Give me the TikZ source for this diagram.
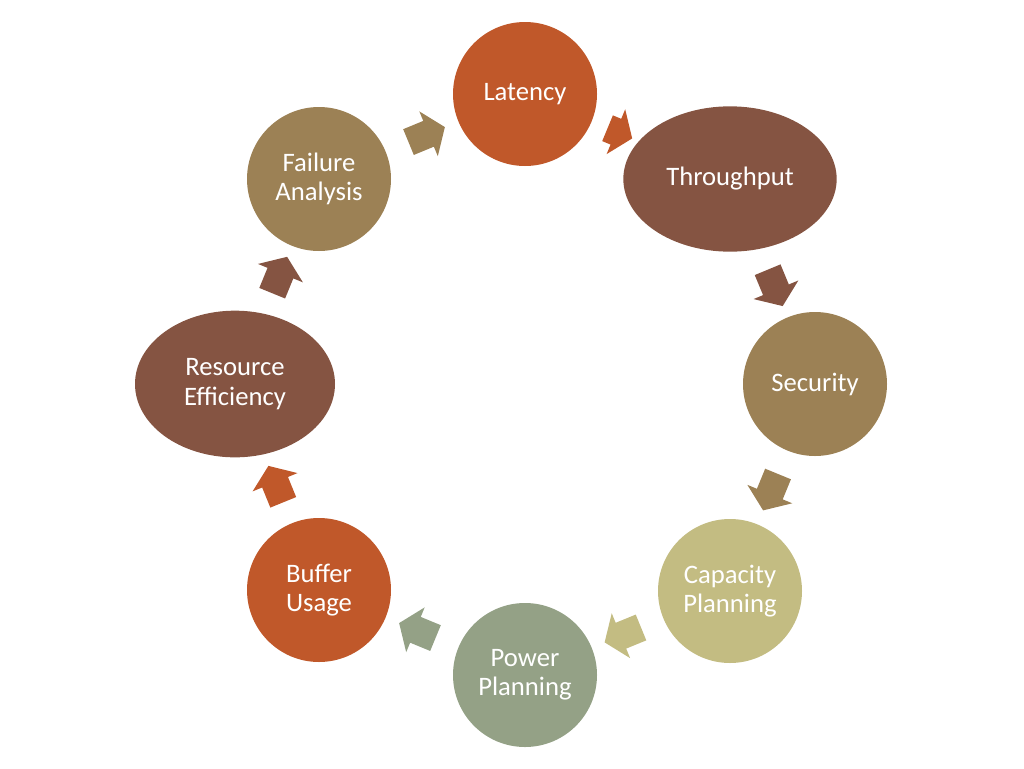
\documentclass[tikz,border=0pt]{standalone}
\usepackage{fontspec}
\setmainfont{Carlito}
\usetikzlibrary{shapes.geometric,shapes.arrows}
\definecolor{cOrange}{RGB}{192,88,42}
\definecolor{cBrown}{RGB}{133,84,66}
\definecolor{cTan}{RGB}{156,129,85}
\definecolor{cKhaki}{RGB}{195,188,130}
\definecolor{cSage}{RGB}{148,161,134}
\begin{document}
\begin{tikzpicture}[x=0.75pt,y=-0.75pt,
  lbl/.style={text=white,align=center,inner sep=0pt,font=\fontsize{20}{22}\selectfont},
  stage/.style={lbl,circle,minimum size=108pt},
  ostage/.style={lbl,ellipse},
  barrow/.style={single arrow,draw=none,minimum height=29.5pt,
    inner xsep=0pt,inner ysep=10.25pt,
    single arrow head extend=7.75pt,single arrow tip angle=108,
    sloped,allow upside down},
  sarrow/.style={barrow,minimum height=20pt}
]
\useasboundingbox (0,0) rectangle (1024,768);
\node[stage,fill=cOrange] (lat) at (525,94) {Latency};
\node[ostage,fill=cBrown,minimum width=160pt,minimum height=109pt] (thr) at (730,179) {Throughput};
\node[stage,fill=cTan] (sec) at (815,384) {Security};
\node[stage,fill=cKhaki] (cap) at (730,591) {Capacity\\Planning};
\node[stage,fill=cSage] (pow) at (525,675) {Power\\Planning};
\node[stage,fill=cOrange] (buf) at (319,590) {Buffer\\Usage};
\node[ostage,fill=cBrown,minimum width=150pt,minimum height=110pt] (res) at (235,384) {Resource\\Efficiency};
\node[stage,fill=cTan] (fai) at (319,179) {Failure\\Analysis};

\path (fai) -- node[barrow,fill=cTan]{} (lat);
\path (lat) -- node[sarrow,fill=cOrange]{} (thr);
\path (thr) -- node[barrow,fill=cBrown]{} (sec);
\path (sec) -- node[barrow,fill=cTan]{} (cap);
\path (cap) -- node[barrow,fill=cKhaki]{} (pow);
\path (pow) -- node[barrow,fill=cSage]{} (buf);
\path (buf) -- node[barrow,fill=cOrange]{} (res);
\path (res) -- node[barrow,fill=cBrown]{} (fai);
\end{tikzpicture}
\end{document}
